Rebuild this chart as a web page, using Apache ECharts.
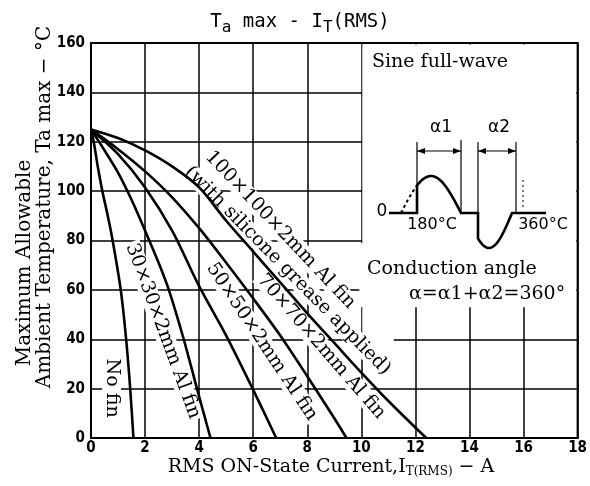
<!DOCTYPE html>
<html><head><meta charset="utf-8">
<script src="https://cdn.jsdelivr.net/npm/echarts@6/dist/echarts.min.js"></script>
<style>html,body{margin:0;padding:0;background:#fff}#c{width:590px;height:486px}</style>
</head><body><div id="c"></div>
<script>
// ---- data (x = RMS current A, y = Ta max °C) ----
const seriesNames = ['No fin', '30×30×2mm Al fin', '50×50×2mm Al fin', '70×70×2mm Al fin', '100×100×2mm Al fin'];
const noFin = [[0,125],[0.1,120],[0.25,110],[0.42,100],[0.62,90],[0.8,80],[1.1,60],[1.3,40],[1.45,20],[1.57,0]];
const fin30 = [[0,125],[0.5,116.5],[1,107.5],[1.5,96.5],[2,84],[2.5,71],[2.88,60],[3.43,40],[3.92,20],[4.42,0]];
const fin50 = [[0,125],[1,115],[2,101.5],[3,84],[4,61.5],[5,41.5],[6,19.5],[6.85,0]];
const fin70 = [[0,125],[1,117],[2,108],[3,97.5],[4,85],[5,71],[6,56.5],[7,41.5],[8,25],[9,8],[9.45,0]];
const fin100 = [[0,125],[1,121.5],[2,116.5],[3,110],[4,101.5],[5,88],[6,75.5],[7,63],[8,50.5],[9,38.5],[10,26.5],[11,15],[12.4,0]];
const xMin = 0, xMax = 18, xStep = 2;
const yMin = 0, yMax = 160, yStep = 20;

// ---- layout of in-plot labels (data coords, angle deg clockwise) ----
const curveLabels = [
  {text:'No fin', at:[0.76,20.2], angle:90},
  {text:'30×30×2mm Al fin', at:[2.66,43.3], angle:69.8},
  {text:'50×50×2mm Al fin', at:[6.32,39], angle:56.3},
  {text:'70×70×2mm Al fin', at:[8.52,37], angle:49},
  {text:'100×100×2mm Al fin', at:[7.0,84.3], angle:46.6},
  {text:'(with silicone grease applied)', at:[7.27,67.8], angle:45.4}
];

const SERIF = "'DejaVu Serif', serif";
const SANS = "'DejaVu Sans', sans-serif";
const MONO = "'DejaVu Sans Mono', monospace";
const NARROW = "'Liberation Sans Narrow', 'DejaVu Sans Condensed', sans-serif";

const chart = echarts.init(document.getElementById('c'));
const all = [noFin, fin30, fin50, fin70, fin100];
chart.setOption({
  animation: false,
  backgroundColor: '#fff',
  grid: {left: 91, right: 9, top: 43, bottom: 48, show: true, borderColor: '#000', borderWidth: 2},
  xAxis: {type: 'value', min: xMin, max: xMax, interval: xStep,
    axisLine: {lineStyle: {color: '#000', width: 2}}, axisTick: {show: false},
    axisLabel: {color: '#000', fontFamily: NARROW, fontWeight: 'bold', fontSize: 15, margin: 3},
    splitLine: {lineStyle: {color: '#000', width: 1.5}}},
  yAxis: {type: 'value', min: yMin, max: yMax, interval: yStep,
    axisLine: {show: true, lineStyle: {color: '#000', width: 2}}, axisTick: {show: false},
    axisLabel: {color: '#000', fontFamily: NARROW, fontWeight: 'bold', fontSize: 15, margin: 6},
    splitLine: {lineStyle: {color: '#000', width: 1.5}}},
  series: all.map((d, i) => ({name: seriesNames[i], type: 'line', data: d, smooth: 0.3,
    symbol: 'none', lineStyle: {color: '#000', width: 2.6}, z: 3}))
});

const P = (x, y) => chart.convertToPixel({gridIndex: 0}, [x, y]);
const g = [];
// cover the inset region
const a = P(10, 160), b = P(18, 53), c80 = P(10, 79), d36 = P(11.2, 36);
g.push({type: 'rect', z: 1, shape: {x: a[0] + 1, y: a[1] + 1.5, width: b[0] - a[0] - 2.5, height: b[1] - a[1] - 1.5}, style: {fill: '#fff'}});
g.push({type: 'rect', z: 1, shape: {x: a[0] - 2, y: c80[1], width: 4, height: b[1] - c80[1]}, style: {fill: '#fff'}});
g.push({type: 'rect', z: 1, shape: {x: a[0] + 1, y: b[1] - 1, width: d36[0] - a[0] - 1, height: d36[1] - b[1] + 1}, style: {fill: '#fff'}});

// curve labels
curveLabels.forEach(l => {
  const p = P(l.at[0], l.at[1]);
  g.push({type: 'text', z: 1, x: p[0], y: p[1], rotation: -l.angle * Math.PI / 180,
    style: {text: l.text, font: '19px ' + SERIF, fill: '#000', align: 'center', verticalAlign: 'middle',
      backgroundColor: '#fff', padding: [0, 2]}});
});

// title
g.push({type: 'text', z: 5, x: 300, y: 22, style: {
  text: '{m|T}{s|a}{m| max - I}{s|T}{m|(RMS)}', align: 'center', verticalAlign: 'middle',
  rich: {m: {font: '19px ' + MONO, fill: '#000', verticalAlign: 'middle'},
         s: {font: '16px ' + MONO, fill: '#000', verticalAlign: 'middle', padding: [12, 0, 0, 0]}}}});
// x axis name
g.push({type: 'text', z: 5, x: 331, y: 467, style: {
  text: '{m|RMS ON-State Current,I}{s|T(RMS)}{m| − A}', align: 'center', verticalAlign: 'middle',
  rich: {m: {font: '19px ' + SERIF, fill: '#000', verticalAlign: 'middle'},
         s: {font: '12px ' + SERIF, fill: '#000', verticalAlign: 'middle', padding: [10, 0, 0, 0]}}}});
// y axis name (two lines)
g.push({type: 'text', z: 5, x: 25, y: 263, rotation: Math.PI / 2, style: {text: 'Maximum Allowable', font: '20px ' + SERIF, fill: '#000', align: 'center', verticalAlign: 'middle'}});
g.push({type: 'text', z: 5, x: 45, y: 207, rotation: Math.PI / 2, style: {text: 'Ambient Temperature, Ta max − °C', font: '20px ' + SERIF, fill: '#000', align: 'center', verticalAlign: 'middle'}});

// inset texts
g.push({type: 'text', z: 5, x: 372, y: 62, style: {text: 'Sine full-wave', font: '19px ' + SERIF, fill: '#000', align: 'left', verticalAlign: 'middle'}});
g.push({type: 'text', z: 5, x: 367, y: 269, style: {text: 'Conduction angle', font: '19px ' + SERIF, fill: '#000', align: 'left', verticalAlign: 'middle'}});
g.push({type: 'text', z: 5, x: 409, y: 294, style: {text: 'α=α1+α2=360°', font: '19px ' + SERIF, fill: '#000', align: 'left', verticalAlign: 'middle'}});
g.push({type: 'text', z: 5, x: 441, y: 128, style: {text: 'α1', font: '17px ' + SANS, fill: '#000', align: 'center', verticalAlign: 'middle'}});
g.push({type: 'text', z: 5, x: 499, y: 128, style: {text: 'α2', font: '17px ' + SANS, fill: '#000', align: 'center', verticalAlign: 'middle'}});
g.push({type: 'text', z: 5, x: 382, y: 212, style: {text: '0', font: '17px ' + SANS, fill: '#000', align: 'center', verticalAlign: 'middle'}});
g.push({type: 'text', z: 5, x: 432, y: 225, style: {text: '180°C', font: '16px ' + SANS, fill: '#000', align: 'center', verticalAlign: 'middle'}});
g.push({type: 'text', z: 5, x: 543, y: 225, style: {text: '360°C', font: '16px ' + SANS, fill: '#000', align: 'center', verticalAlign: 'middle'}});

// waveform sketch
const by = 213;
function half(xs, xe, amp, from, to, sign) {
  const pts = [];
  const n = 24;
  for (let i = 0; i <= n; i++) {
    const x = from + (to - from) * i / n;
    pts.push([x, by - sign * amp * Math.sin(Math.PI * (x - xs) / (xe - xs))]);
  }
  return pts;
}
const W = {stroke: '#000', lineWidth: 2.6, fill: null};
const T = {stroke: '#000', lineWidth: 1.2, fill: null};
const pos = half(401, 461, 37, 417, 461, 1);
const neg = half(466, 512, 35, 478, 512, -1);
g.push({type: 'polyline', z: 5, shape: {points: [[389, by], [417, by]].concat(pos).concat([[478, by]]).concat(neg).concat([[546, by]])}, style: W});
g.push({type: 'polyline', z: 5, shape: {points: half(401, 461, 37, 401, 417, 1)}, style: {stroke: '#000', lineWidth: 2, fill: null, lineDash: [3, 3]}});
g.push({type: 'line', z: 5, shape: {x1: 523, y1: 180, x2: 523, y2: 210}, style: {stroke: '#000', lineWidth: 1, lineDash: [2, 3]}});
[[417, 142, by], [461, 140, by], [478, 142, 232], [516, 142, by]].forEach(v => {
  g.push({type: 'line', z: 5, shape: {x1: v[0], y1: v[1], x2: v[0], y2: v[2]}, style: T});
});
[[417, 461], [478, 516]].forEach(s => {
  const y = 151;
  g.push({type: 'line', z: 5, shape: {x1: s[0], y1: y, x2: s[1], y2: y}, style: T});
  g.push({type: 'polygon', z: 5, shape: {points: [[s[0], y], [s[0] + 8, y - 3], [s[0] + 8, y + 3]]}, style: {fill: '#000'}});
  g.push({type: 'polygon', z: 5, shape: {points: [[s[1], y], [s[1] - 8, y - 3], [s[1] - 8, y + 3]]}, style: {fill: '#000'}});
});

chart.setOption({graphic: g});
</script></body></html>
